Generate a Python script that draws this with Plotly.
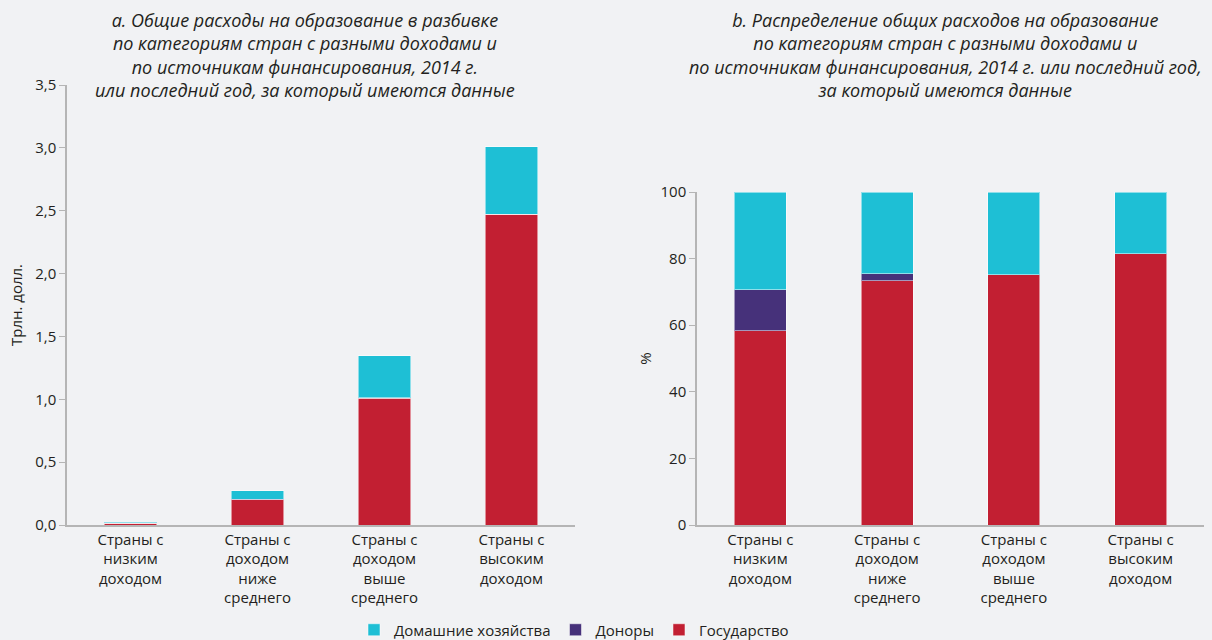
import plotly.graph_objects as go

# categories
categories = ["Страны с<br>низким<br>доходом",
              "Страны с<br>доходом<br>ниже<br>среднего",
              "Страны с<br>доходом<br>выше<br>среднего",
              "Страны с<br>высоким<br>доходом"]

# a. trillion USD
gov_abs = [0.012, 0.200, 1.010, 2.470]
donors_abs = [0.0025, 0.006, 0.001, 0.0]
households_abs = [0.006, 0.065, 0.335, 0.540]

# b. percent
gov_pct = [58.3, 73.3, 75.1, 81.5]
donors_pct = [12.3, 2.1, 0.1, 0.0]
households_pct = [29.4, 24.6, 24.8, 18.5]

series_names = ["Государство", "Доноры", "Домашние хозяйства"]
colors = ["#c21f32", "#46317a", "#1ebfd5"]

FONT = "Open Sans"
TXT = "#231f20"
AX = "#b5b5b5"
BG = "#f1f2f4"

# plot area in pixels
L, R, T, B = 67, 8, 85, 115
W, H = 1212, 640
PW, PH = W - L - R, H - T - B

def px_x(x):
    return (x - L) / PW

def px_y(y):
    return (H - B - y) / PH

fig = go.Figure()

for name, col, vals in zip(series_names, colors, [gov_abs, donors_abs, households_abs]):
    fig.add_trace(go.Bar(x=categories, y=vals, name=name, marker_color=col,
                         marker_line=dict(color="rgba(255,255,255,0.5)", width=1),
                         xaxis="x", yaxis="y", legendgroup=name))
for name, col, vals in zip(series_names, colors, [gov_pct, donors_pct, households_pct]):
    fig.add_trace(go.Bar(x=categories, y=vals, name=name, marker_color=col,
                         marker_line=dict(color="rgba(255,255,255,0.5)", width=1),
                         xaxis="x2", yaxis="y2", legendgroup=name, showlegend=False))

axis_common = dict(showgrid=False, zeroline=False, showline=True, linecolor=AX, linewidth=1.5,
                   automargin=False, tickfont=dict(family=FONT, size=15, color=TXT))

fig.update_layout(
    width=W, height=H,
    margin=dict(l=L, r=R, t=T, b=B, autoexpand=False),
    paper_bgcolor=BG, plot_bgcolor=BG,
    barmode="stack", bargap=0.59,
    separators=", ",
    font=dict(family=FONT, color=TXT),
    xaxis=dict(domain=[0, px_x(575)], anchor="y", ticks="", **axis_common),
    yaxis=dict(domain=[0, 1], anchor="x", range=[0, 3.5], dtick=0.5,
               tickformat=".1f", ticks="outside", ticklen=6, tickcolor=AX,
               title=dict(text="Трлн. долл.", font=dict(family=FONT, size=15, color=TXT), standoff=9),
               **axis_common),
    xaxis2=dict(domain=[px_x(697), 1], anchor="y2", ticks="", **axis_common),
    yaxis2=dict(domain=[0, px_y(192)], anchor="x2", range=[0, 100], dtick=20,
                ticks="outside", ticklen=6, tickcolor=AX,
                title=dict(text="%", font=dict(family=FONT, size=15, color=TXT), standoff=5),
                **axis_common),
    legend=dict(orientation="h", x=px_x(574), xanchor="center", y=px_y(630), yanchor="middle",
                traceorder="reversed", font=dict(family=FONT, size=15, color=TXT),
                itemwidth=30, bgcolor="rgba(0,0,0,0)"),
)

title_a = ("<i>a. Общие расходы на образование в разбивке<br>"
           "по категориям стран с разными доходами и<br>"
           "по источникам финансирования, 2014 г.<br>"
           "или последний год, за который имеются данные</i>")
title_b = ("<i>b. Распределение общих расходов на образование<br>"
           "по категориям стран с разными доходами и<br>"
           "по источникам финансирования, 2014 г. или последний год,<br>"
           "за который имеются данные</i>")
fig.add_annotation(text=title_a, x=px_x(305), y=px_y(6), xref="paper", yref="paper",
                   xanchor="center", yanchor="top", showarrow=False, align="center",
                   font=dict(family=FONT, size=18, color=TXT))
fig.add_annotation(text=title_b, x=px_x(945), y=px_y(6), xref="paper", yref="paper",
                   xanchor="center", yanchor="top", showarrow=False, align="center",
                   font=dict(family=FONT, size=18, color=TXT))

# remove the default page margin so the figure fills the window
fig.write_html("out.html", config={"displayModeBar": False},
               post_script="document.body.style.margin='0';document.body.style.background='%s';" % BG)
